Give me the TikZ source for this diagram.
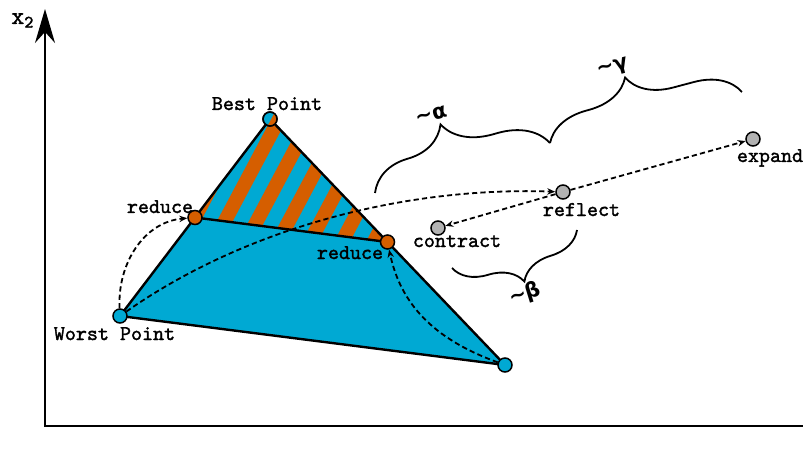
\documentclass[tikz,border=0pt]{standalone}
\usepackage{fontspec}
\usepackage{xcolor}
\newfontfamily\greekfont{DejaVu Sans}
\newfontfamily\labelfont{Latin Modern Mono}[FakeBold=1.6]
\usetikzlibrary{arrows.meta,decorations.pathreplacing,backgrounds,calc}
\definecolor{myBlue}{RGB}{0,169,211}
\definecolor{myOrange}{RGB}{213,94,0}
\definecolor{myGray}{RGB}{178,178,178}

\tikzset{
  vertex/.style={circle, draw, line width=0.75pt, minimum size=7pt, inner sep=0pt},
  lbl/.style={font=\fontsize{10.5}{12}\selectfont\labelfont, inner sep=0pt, anchor=base},
  move/.style={dash pattern=on 2.6pt off 1.6pt, line width=0.9pt, -{Stealth[length=4pt,width=3.2pt]}},
  curly/.style 2 args={decorate, line width=0.9pt, decoration={brace, amplitude=#1, aspect=#2}},
  greek/.style={font=\fontsize{10.5}{12}\selectfont\greekfont\bfseries, inner sep=0pt}
}
\newcommand{\hatchstripes}{%
  \foreach \k in {-4,...,9}
    \draw[myOrange, line width=7pt] ($(226+32*\k,237)+(242:150)$) -- ($(226+32*\k,237)+(62:150)$);}

\begin{document}
\begin{tikzpicture}[x=0.5pt, y=0.5pt]
  \useasboundingbox (0,0) rectangle (803,456);

  % axes
  \coordinate (xend) at (803,30);
  \coordinate (origin) at (45,30);
  \coordinate (ytop) at (45,447);
  \draw[line width=1pt, -{Stealth[length=17pt,width=10pt]}] (xend) -- (origin) -- (ytop);
  \node[font=\fontsize{12.5}{14}\selectfont\labelfont, inner sep=0pt, anchor=base west] (ylbl) at (11,432) {x\textsubscript{2}};

  % simplex vertices
  \node[vertex, fill=myBlue] (worst) at (120,140) {};
  \node[vertex, fill=myBlue] (best) at (270,337) {};
  \node[vertex, fill=myBlue] (third) at (505,91) {};
  \node[vertex, fill=myOrange] (redL) at ($(worst)!0.5!(best)$) {};
  \node[vertex, fill=myOrange] (redR) at ($(best)!0.5!(third)$) {};

  % trial points
  \node[vertex, fill=myGray] (reflect) at (563,264) {};
  \node[vertex, fill=myGray] (expand) at (753,317) {};
  \node[vertex, fill=myGray] (contract) at (438,228) {};

  \begin{scope}[on background layer]
    \fill[myBlue] (worst.center) -- (best.center) -- (third.center) -- cycle;
    \begin{scope}
      \clip (best.center) -- (redL.center) -- (redR.center) -- cycle;
      \hatchstripes
    \end{scope}
    \draw[line width=1.2pt, line join=round] (worst.center) -- (best.center) -- (third.center) -- cycle;
    \draw[line width=1.2pt] (redL.center) -- (redR.center);
  \end{scope}

  % striped best point
  \begin{scope}
    \clip (best) circle (3.5pt);
    \hatchstripes
  \end{scope}
  \draw[line width=0.75pt] (best) circle (3.5pt);

  % labels
  \node[lbl] (bestLbl) at (267,346) {Best Point};
  \node[lbl] (redLLbl) at (160,243) {reduce};
  \node[lbl] (redRLbl) at (350,197) {reduce};
  \node[lbl] (worstLbl) at (114.5,116) {Worst Point};
  \node[lbl] (reflectLbl) at (581.5,240) {reflect};
  \node[lbl] (contractLbl) at (457,209) {contract};
  \node[lbl] (expandLbl) at (770,294) {expand};

  % moves
  \draw[move] (worst) to[out=93, in=185] (redL);
  \draw[move] (worst) to[out=35, in=178, looseness=0.85] (reflect);
  \draw[move] (third) to[out=160, in=-78] (redR);
  \draw[move] (reflect) -- (expand);
  \draw[move] (reflect) -- (contract);

  % step sizes
  \coordinate (aS) at (375,263);
  \coordinate (aE) at (550,313);
  \coordinate (gE) at (742,364);
  \coordinate (bS) at (577,226);
  \coordinate (bE) at (452,188);
  \draw[curly={24pt}{0.45}] (aS) -- (aE);
  \draw[curly={22pt}{0.45}] (aE) -- (gE);
  \draw[curly={17pt}{0.5}] (bS) -- (bE);
  \node[greek, rotate=16] (alphaLbl) at (431,341) {\textasciitilde α};
  \node[greek, rotate=15] (gammaLbl) at (613,388) {\textasciitilde γ};
  \node[greek, rotate=17] (betaLbl) at (525,162) {\textasciitilde β};
\end{tikzpicture}
\end{document}
